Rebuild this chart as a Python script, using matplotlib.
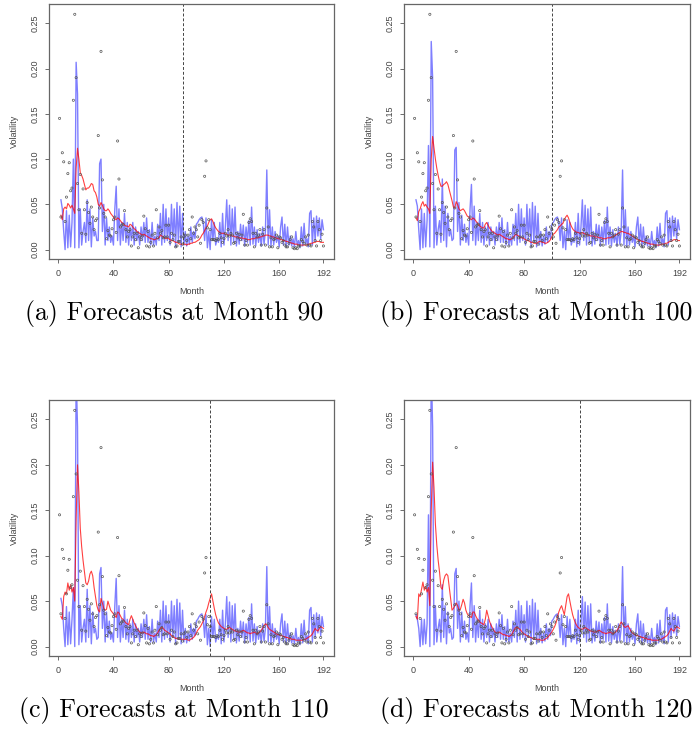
import numpy as np
import matplotlib
matplotlib.use("Agg")
import matplotlib.pyplot as plt

plt.rcParams["font.family"] = ["Liberation Sans", "DejaVu Sans"]

# Observed monthly volatility (same in all four panels)
obs = [
    0.145, 0.036, 0.107, 0.097, 0.031, 0.058, 0.084, 0.096, 0.065, 0.068,
    0.165, 0.260, 0.190, 0.073, 0.044, 0.083, 0.018, 0.067, 0.044, 0.017,
    0.052, 0.041, 0.029, 0.047, 0.036, 0.022, 0.032, 0.034, 0.126, 0.046,
    0.219, 0.077, 0.040, 0.036, 0.012, 0.021, 0.016, 0.015, 0.023, 0.033,
    0.036, 0.019, 0.120, 0.078, 0.025, 0.027, 0.028, 0.043, 0.022, 0.014,
    0.020, 0.022, 0.004, 0.014, 0.018, 0.011, 0.018, 0.002, 0.014, 0.011,
    0.015, 0.037, 0.023, 0.004, 0.020, 0.003, 0.008, 0.016, 0.004, 0.018,
    0.044, 0.013, 0.025, 0.018, 0.021, 0.013, 0.014, 0.027, 0.014, 0.027,
    0.008, 0.018, 0.011, 0.016, 0.003, 0.004, 0.009, 0.009, 0.014, 0.006,
    0.014, 0.016, 0.010, 0.016, 0.022, 0.012, 0.036, 0.018, 0.025, 0.022,
    0.014, 0.027, 0.007, 0.033, 0.030, 0.081, 0.098, 0.024, 0.033, 0.022,
    0.011, 0.011, 0.011, 0.010, 0.012, 0.011, 0.018, 0.013, 0.008, 0.012,
    0.018, 0.015, 0.022, 0.015, 0.018, 0.016, 0.007, 0.008, 0.018, 0.013,
    0.017, 0.011, 0.016, 0.039, 0.005, 0.010, 0.005, 0.030, 0.034, 0.031,
    0.018, 0.003, 0.018, 0.014, 0.016, 0.022, 0.005, 0.017, 0.022, 0.005,
    0.046, 0.025, 0.003, 0.013, 0.003, 0.011, 0.012, 0.016, 0.002, 0.014,
    0.013, 0.008, 0.010, 0.005, 0.003, 0.003, 0.007, 0.011, 0.014, 0.002,
    0.001, 0.002, 0.001, 0.004, 0.004, 0.011, 0.009, 0.007, 0.014, 0.005,
    0.016, 0.005, 0.004, 0.031, 0.025, 0.010, 0.004, 0.031, 0.022, 0.010,
    0.017, 0.004,
]

# Fitted/forecast volatility (blue): months 1-45 differ per panel, 46-192 shared
blue_head_a = [
    np.nan, 0.055, 0.045, 0.020, 0.000, 0.043, 0.002, 0.038, 0.003, 0.030,
    0.100, 0.002, 0.207, 0.172, 0.002, 0.045, 0.005, 0.020, 0.030, 0.008,
    0.055, 0.010, 0.045, 0.003, 0.035, 0.015, 0.020, 0.010, 0.010, 0.095,
    0.100, 0.020, 0.050, 0.005, 0.035, 0.010, 0.025, 0.008, 0.015, 0.005,
    0.045, 0.070, 0.010, 0.045, 0.005,
]
blue_head_b = [
    np.nan, 0.055, 0.048, 0.022, 0.000, 0.045, 0.002, 0.040, 0.003, 0.032,
    0.115, 0.003, 0.230, 0.190, 0.002, 0.048, 0.005, 0.022, 0.032, 0.008,
    0.078, 0.010, 0.048, 0.003, 0.040, 0.015, 0.022, 0.010, 0.012, 0.110,
    0.113, 0.020, 0.052, 0.005, 0.038, 0.010, 0.028, 0.008, 0.018, 0.005,
    0.045, 0.072, 0.010, 0.048, 0.005,
]
blue_head_c = [
    np.nan, 0.053, 0.045, 0.020, 0.000, 0.044, 0.002, 0.038, 0.003, 0.030,
    0.065, 0.000, 0.300, 0.242, 0.002, 0.045, 0.005, 0.020, 0.030, 0.005,
    0.063, 0.010, 0.045, 0.003, 0.038, 0.015, 0.020, 0.008, 0.010, 0.080,
    0.087, 0.020, 0.050, 0.005, 0.038, 0.010, 0.028, 0.008, 0.015, 0.005,
    0.045, 0.075, 0.010, 0.045, 0.005,
]
blue_head_d = [
    np.nan, 0.035, 0.030, 0.020, 0.000, 0.030, 0.002, 0.030, 0.003, 0.025,
    0.145, 0.000, 0.310, 0.242, 0.002, 0.045, 0.005, 0.020, 0.030, 0.005,
    0.068, 0.010, 0.045, 0.003, 0.038, 0.015, 0.020, 0.008, 0.010, 0.080,
    0.086, 0.020, 0.050, 0.005, 0.038, 0.010, 0.028, 0.008, 0.015, 0.005,
    0.045, 0.070, 0.010, 0.045, 0.005,
]
blue_tail = [
    0.030, 0.010, 0.040, 0.008, 0.030, 0.005, 0.025, 0.010, 0.030, 0.005,
    0.025, 0.010, 0.020, 0.005, 0.025, 0.010, 0.030, 0.008, 0.035, 0.008,
    0.022, 0.005, 0.030, 0.005, 0.015, 0.005, 0.028, 0.010, 0.040, 0.005,
    0.050, 0.008, 0.045, 0.010, 0.035, 0.005, 0.050, 0.010, 0.045, 0.003,
    0.052, 0.008, 0.048, 0.003, 0.040,
    0.005, 0.020, 0.004, 0.015, 0.006, 0.025, 0.008, 0.020, 0.012, 0.028,
    0.030, 0.033, 0.035, 0.036, 0.030, 0.010, 0.035, 0.002, 0.020, 0.000,
    0.033, 0.010, 0.030, 0.005, 0.012, 0.008, 0.030, 0.003, 0.040, 0.005,
    0.025, 0.055, 0.010, 0.049, 0.005, 0.045, 0.008, 0.047, 0.004, 0.020,
    0.006, 0.028, 0.010, 0.027, 0.004, 0.025, 0.008, 0.032, 0.005, 0.047,
    0.006, 0.025, 0.004, 0.022, 0.008, 0.018, 0.004, 0.025, 0.006, 0.020,
    0.088, 0.005, 0.044, 0.003, 0.025, 0.005, 0.020, 0.008, 0.015, 0.003,
    0.025, 0.036, 0.005, 0.028, 0.003, 0.025, 0.005, 0.015, 0.004, 0.012,
    0.003, 0.020, 0.005, 0.010, 0.002, 0.025, 0.004, 0.029, 0.006, 0.012,
    0.003, 0.040, 0.043, 0.005, 0.035, 0.010, 0.037, 0.015, 0.035, 0.012,
    0.033, 0.022,
]

# Forecast volatility (red), one series per forecast origin
red_a = [
    np.nan, 0.038, 0.033, 0.045, 0.047, 0.045, 0.051, 0.049, 0.046, 0.049,
    0.045, 0.040, 0.090, 0.112, 0.100, 0.085, 0.082, 0.078, 0.072, 0.066,
    0.068, 0.068, 0.070, 0.073, 0.072, 0.065, 0.063, 0.058, 0.050, 0.048,
    0.052, 0.049, 0.045, 0.043, 0.043, 0.045, 0.043, 0.040, 0.038, 0.036,
    0.034, 0.033, 0.035, 0.034, 0.032, 0.030, 0.029, 0.027, 0.026, 0.026,
    0.025, 0.028, 0.027, 0.025, 0.023, 0.022, 0.020, 0.019, 0.018, 0.017,
    0.016, 0.017, 0.016, 0.015, 0.014, 0.013, 0.012, 0.012, 0.011, 0.011,
    0.012, 0.012, 0.013, 0.016, 0.015, 0.014, 0.013, 0.012, 0.013, 0.012,
    0.011, 0.010, 0.010, 0.009, 0.008, 0.008, 0.007, 0.006, 0.006, 0.006,
    0.006, 0.006, 0.005, 0.006, 0.006, 0.007, 0.007, 0.008, 0.008, 0.009,
    0.010, 0.011, 0.013, 0.016, 0.018, 0.021, 0.024, 0.026, 0.030, 0.033,
    0.034, 0.031, 0.027, 0.024, 0.022, 0.020, 0.019, 0.018, 0.018, 0.018,
    0.017, 0.017, 0.016, 0.016, 0.016, 0.015, 0.015, 0.014, 0.014, 0.014,
    0.013, 0.013, 0.013, 0.012, 0.012, 0.012, 0.011, 0.011, 0.011, 0.012,
    0.012, 0.012, 0.013, 0.013, 0.013, 0.014, 0.014, 0.015, 0.015, 0.016,
    0.016, 0.016, 0.015, 0.015, 0.014, 0.014, 0.013, 0.013, 0.012, 0.012,
    0.011, 0.011, 0.010, 0.010, 0.009, 0.009, 0.008, 0.008, 0.007, 0.007,
    0.006, 0.006, 0.006, 0.005, 0.005, 0.005, 0.005, 0.005, 0.005, 0.005,
    0.006, 0.006, 0.007, 0.007, 0.008, 0.008, 0.009, 0.009, 0.009, 0.008,
    0.008, 0.008,
]
red_b = [
    np.nan, 0.035, 0.032, 0.042, 0.045, 0.050, 0.053, 0.048, 0.050, 0.047,
    0.045, 0.040, 0.100, 0.125, 0.112, 0.100, 0.090, 0.082, 0.075, 0.070,
    0.070, 0.072, 0.073, 0.075, 0.072, 0.066, 0.060, 0.054, 0.047, 0.046,
    0.053, 0.050, 0.045, 0.043, 0.044, 0.045, 0.043, 0.040, 0.037, 0.036,
    0.034, 0.033, 0.035, 0.034, 0.032, 0.030, 0.028, 0.026, 0.025, 0.024,
    0.024, 0.028, 0.030, 0.027, 0.024, 0.022, 0.020, 0.019, 0.018, 0.017,
    0.016, 0.017, 0.016, 0.015, 0.014, 0.013, 0.012, 0.012, 0.011, 0.011,
    0.012, 0.013, 0.015, 0.017, 0.016, 0.015, 0.014, 0.013, 0.013, 0.012,
    0.011, 0.010, 0.010, 0.009, 0.008, 0.008, 0.007, 0.007, 0.007, 0.008,
    0.009, 0.009, 0.008, 0.008, 0.007, 0.007, 0.008, 0.009, 0.011, 0.014,
    0.017, 0.018, 0.020, 0.022, 0.025, 0.026, 0.028, 0.029, 0.033, 0.036,
    0.038, 0.035, 0.030, 0.026, 0.023, 0.021, 0.020, 0.019, 0.019, 0.018,
    0.018, 0.019, 0.018, 0.017, 0.017, 0.016, 0.016, 0.015, 0.015, 0.015,
    0.014, 0.014, 0.014, 0.013, 0.013, 0.013, 0.012, 0.012, 0.012, 0.013,
    0.013, 0.013, 0.014, 0.014, 0.015, 0.016, 0.017, 0.018, 0.019, 0.020,
    0.020, 0.019, 0.019, 0.018, 0.018, 0.017, 0.016, 0.015, 0.014, 0.013,
    0.012, 0.011, 0.010, 0.010, 0.009, 0.009, 0.008, 0.008, 0.007, 0.007,
    0.006, 0.006, 0.006, 0.005, 0.005, 0.005, 0.005, 0.005, 0.006, 0.006,
    0.006, 0.007, 0.007, 0.008, 0.009, 0.009, 0.010, 0.011, 0.011, 0.011,
    0.010, 0.010,
]
red_c = [
    np.nan, 0.033, 0.030, 0.055, 0.060, 0.058, 0.070, 0.062, 0.068, 0.060,
    0.065, 0.050, 0.140, 0.200, 0.170, 0.130, 0.110, 0.095, 0.082, 0.070,
    0.068, 0.072, 0.080, 0.083, 0.078, 0.065, 0.055, 0.045, 0.040, 0.038,
    0.053, 0.048, 0.042, 0.040, 0.041, 0.050, 0.045, 0.040, 0.038, 0.036,
    0.034, 0.032, 0.038, 0.037, 0.034, 0.031, 0.030, 0.028, 0.026, 0.025,
    0.024, 0.030, 0.034, 0.030, 0.026, 0.023, 0.020, 0.018, 0.016, 0.015,
    0.015, 0.016, 0.015, 0.014, 0.014, 0.013, 0.012, 0.012, 0.011, 0.012,
    0.013, 0.015, 0.018, 0.020, 0.021, 0.020, 0.018, 0.017, 0.016, 0.015,
    0.014, 0.012, 0.011, 0.010, 0.009, 0.009, 0.008, 0.008, 0.008, 0.008,
    0.008, 0.008, 0.008, 0.007, 0.007, 0.008, 0.009, 0.010, 0.012, 0.015,
    0.018, 0.020, 0.022, 0.025, 0.028, 0.033, 0.038, 0.042, 0.048, 0.053,
    0.058, 0.050, 0.042, 0.035, 0.030, 0.026, 0.024, 0.022, 0.021, 0.020,
    0.019, 0.019, 0.020, 0.021, 0.020, 0.019, 0.018, 0.017, 0.017, 0.016,
    0.016, 0.016, 0.017, 0.018, 0.017, 0.016, 0.015, 0.015, 0.014, 0.015,
    0.015, 0.016, 0.015, 0.014, 0.015, 0.016, 0.018, 0.020, 0.023, 0.025,
    0.024, 0.021, 0.019, 0.018, 0.017, 0.016, 0.015, 0.014, 0.013, 0.013,
    0.012, 0.012, 0.011, 0.011, 0.010, 0.010, 0.009, 0.009, 0.008, 0.008,
    0.008, 0.007, 0.007, 0.007, 0.007, 0.007, 0.007, 0.008, 0.008, 0.009,
    0.010, 0.011, 0.012, 0.014, 0.017, 0.020, 0.018, 0.017, 0.020, 0.022,
    0.021, 0.020,
]
red_d = [
    np.nan, 0.033, 0.030, 0.058, 0.055, 0.063, 0.071, 0.062, 0.066, 0.060,
    0.065, 0.045, 0.150, 0.203, 0.175, 0.135, 0.112, 0.095, 0.082, 0.065,
    0.063, 0.073, 0.078, 0.080, 0.078, 0.065, 0.052, 0.040, 0.042, 0.045,
    0.048, 0.045, 0.040, 0.041, 0.046, 0.052, 0.048, 0.040, 0.036, 0.034,
    0.033, 0.032, 0.038, 0.038, 0.034, 0.031, 0.029, 0.027, 0.026, 0.025,
    0.024, 0.030, 0.040, 0.034, 0.028, 0.024, 0.021, 0.018, 0.016, 0.015,
    0.015, 0.016, 0.015, 0.014, 0.013, 0.013, 0.012, 0.012, 0.011, 0.012,
    0.013, 0.016, 0.019, 0.021, 0.021, 0.020, 0.019, 0.017, 0.015, 0.014,
    0.013, 0.012, 0.011, 0.010, 0.010, 0.009, 0.008, 0.008, 0.008, 0.008,
    0.008, 0.007, 0.007, 0.007, 0.008, 0.009, 0.010, 0.012, 0.014, 0.016,
    0.019, 0.022, 0.026, 0.032, 0.038, 0.042, 0.045, 0.040, 0.035, 0.045,
    0.055, 0.058, 0.050, 0.042, 0.035, 0.030, 0.026, 0.023, 0.021, 0.020,
    0.019, 0.019, 0.020, 0.021, 0.020, 0.019, 0.018, 0.017, 0.017, 0.016,
    0.016, 0.016, 0.017, 0.018, 0.017, 0.016, 0.015, 0.015, 0.014, 0.015,
    0.015, 0.016, 0.015, 0.014, 0.015, 0.016, 0.018, 0.020, 0.024, 0.027,
    0.025, 0.022, 0.021, 0.022, 0.023, 0.020, 0.017, 0.015, 0.014, 0.013,
    0.012, 0.012, 0.011, 0.011, 0.010, 0.010, 0.009, 0.009, 0.008, 0.008,
    0.008, 0.007, 0.007, 0.007, 0.007, 0.007, 0.007, 0.008, 0.008, 0.009,
    0.010, 0.011, 0.012, 0.014, 0.017, 0.020, 0.018, 0.017, 0.020, 0.022,
    0.021, 0.020,
]

cutoffs = [90, 100, 110, 120]
captions = ["(a) Forecasts at Month 90", "(b) Forecasts at Month 100",
            "(c) Forecasts at Month 110", "(d) Forecasts at Month 120"]
blue_heads = [blue_head_a, blue_head_b, blue_head_c, blue_head_d]
reds = [red_a, red_b, red_c, red_d]

months = np.arange(1, 193)

W, H = 696, 752
fig = plt.figure(figsize=(W / 100, H / 100), dpi=100)

# axes boxes in pixels: (left, top, right, bottom)
boxes = [(49, 4, 334, 259), (404, 4, 690, 259),
         (49, 400, 334, 656), (404, 400, 690, 656)]
cap_pos = [(174, 313), (536, 313), (174, 711), (536, 711)]

for i in range(4):
    l, t, r, b = boxes[i]
    ax = fig.add_axes([l / W, 1 - b / H, (r - l) / W, (b - t) / H])
    blue = np.array(blue_heads[i] + blue_tail, dtype=float)
    red = np.array(reds[i], dtype=float)

    ax.plot(months, blue, color=(0, 0, 1, 0.5), lw=1.0)
    ax.plot(months, red, color=(1, 0, 0, 0.75), lw=0.8)
    ax.scatter(months, obs, s=2.5, facecolors="none", edgecolors="#555555",
               linewidths=0.5, zorder=3)
    ax.axvline(cutoffs[i], color="#444444", lw=0.7, ls=(0, (3, 2)))

    ax.set_xlim(1 - 7.64, 192 + 7.64)
    ax.set_ylim(-0.0104, 0.2714)
    ax.set_xticks([0, 40, 80, 120, 160, 192])
    ax.set_yticks([0.0, 0.05, 0.10, 0.15, 0.20, 0.25])
    ax.set_yticklabels(["0.00", "0.05", "0.10", "0.15", "0.20", "0.25"],
                       rotation=90, va="center")
    ax.tick_params(labelsize=6.5, length=3, width=0.6, colors="#555555",
                   labelcolor="#444444", pad=4)
    for s in ax.spines.values():
        s.set_color("#666666")
        s.set_linewidth(0.9)
    ax.set_xlabel("Month", fontsize=6.5, color="#444444", labelpad=7)
    ax.set_ylabel("Volatility", fontsize=6.5, color="#444444", labelpad=8)

    cx, cy = cap_pos[i]
    fig.text(cx / W, 1 - cy / H, captions[i], ha="center", va="center",
             fontsize=18.6, family="cmr10")

fig.savefig("out.png", dpi=100)
